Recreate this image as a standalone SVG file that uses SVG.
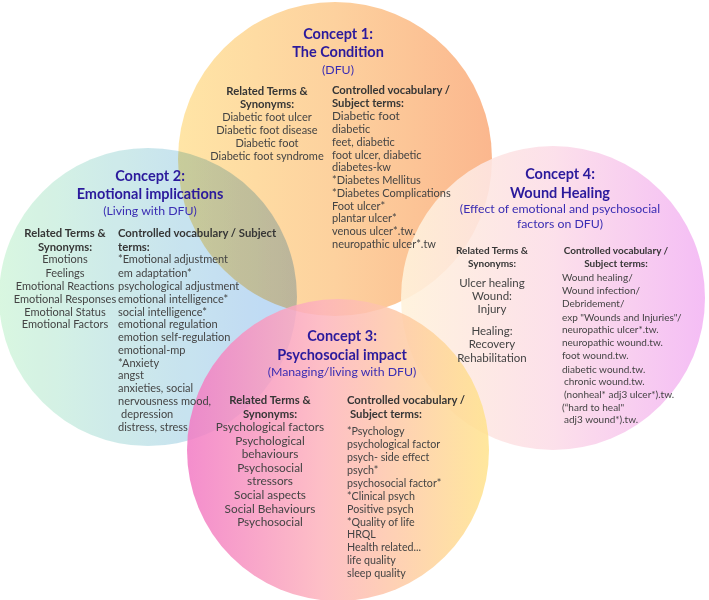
<svg xmlns="http://www.w3.org/2000/svg" width="709" height="600" viewBox="0 0 709 600">
<defs>
<linearGradient id="g1" x1="0" y1="0" x2="1" y2="0">
<stop offset="0" stop-color="#FFE5A6"/><stop offset="0.5" stop-color="#FDD19E"/><stop offset="1" stop-color="#FBB78E"/>
</linearGradient>
<linearGradient id="g2" x1="0" y1="0" x2="1" y2="0">
<stop offset="0" stop-color="#D4F6DC"/><stop offset="0.5" stop-color="#C4E4EA"/><stop offset="1" stop-color="#B4D2F6"/>
</linearGradient>
<linearGradient id="g4" x1="0" y1="0" x2="1" y2="0">
<stop offset="0" stop-color="#FFF2DA"/><stop offset="0.5" stop-color="#FCDDE8"/><stop offset="1" stop-color="#F3B6F4"/>
</linearGradient>
<linearGradient id="g3" x1="0" y1="0" x2="1" y2="0">
<stop offset="0" stop-color="#F27AC4"/><stop offset="0.45" stop-color="#FDB4BC"/><stop offset="1" stop-color="#FFE38C"/>
</linearGradient>
<style>
text{font-family:Lato,"Liberation Sans",sans-serif;fill:#444444;font-size:11px}
.t{font-weight:bold;font-size:14.5px;fill:#2B1A9C;text-anchor:middle}
.s{font-size:12.3px;fill:#3A2DB3;text-anchor:middle}
.h{font-weight:bold;font-size:11.3px;fill:#363636}
.c{text-anchor:middle}
.w{font-size:10px}
.p{font-size:11.8px}
.q{font-size:10.7px}
.r{font-size:11.5px}
</style>
</defs>
<rect width="709" height="600" fill="#ffffff"/>
<g id="circles">
<circle id="c1" cx="335" cy="159" r="157" fill="url(#g1)"/>
<circle id="c2" cx="148" cy="297" r="149" fill="url(#g2)" opacity="0.88" style="mix-blend-mode:multiply"/>
<circle id="c4" cx="553" cy="298" r="152" fill="url(#g4)" opacity="0.9"/>
<circle id="c3" cx="338" cy="450" r="151" fill="url(#g3)" opacity="0.85"/>
</g>
<g id="connectors"></g>
<g id="concept1">
<text class="t" x="338" y="39">Concept 1:</text>
<text class="t" x="338" y="57">The Condition</text>
<text class="s" x="338" y="74">(DFU)</text>
<text class="h c" x="267" y="95">Related Terms &amp;</text>
<text class="h c" x="267" y="108">Synonyms:</text>
<text class="c" x="267" y="121">Diabetic foot ulcer</text>
<text class="c" x="267" y="134">Diabetic foot disease</text>
<text class="c" x="267" y="147">Diabetic foot</text>
<text class="c" x="267" y="160">Diabetic foot syndrome</text>
<text class="h" x="332" y="94">Controlled vocabulary /</text>
<text class="h" x="332" y="107">Subject terms:</text>
<text x="332" y="120" style="font-size:11.8px">Diabetic foot</text>
<text x="332" y="132.5">diabetic</text>
<text x="332" y="146">feet, diabetic</text>
<text x="332" y="158.5">foot ulcer, diabetic</text>
<text x="332" y="170.5">diabetes-kw</text>
<text x="332" y="184">*Diabetes Mellitus</text>
<text x="332" y="197">*Diabetes Complications</text>
<text x="332" y="210">Foot ulcer*</text>
<text x="332" y="222">plantar ulcer*</text>
<text x="332" y="235">venous ulcer*.tw.</text>
<text x="332" y="248">neuropathic ulcer*.tw</text>
</g>
<g id="concept2">
<text class="t" x="150" y="181">Concept 2:</text>
<text class="t" x="150" y="199">Emotional implications</text>
<text class="s" x="150" y="215">(Living with DFU)</text>
<text class="h c" x="65" y="237">Related Terms &amp;</text>
<text class="h c" x="65" y="251">Synonyms:</text>
<text class="c" x="65" y="263">Emotions</text>
<text class="c" x="65" y="276.5">Feelings</text>
<text class="c" x="65" y="290">Emotional Reactions</text>
<text class="c" x="65" y="302.5">Emotional Responses</text>
<text class="c" x="65" y="315.5">Emotional Status</text>
<text class="c" x="65" y="328">Emotional Factors</text>
<text class="h" x="118" y="237">Controlled vocabulary / Subject</text>
<text class="h" x="118" y="251">terms:</text>
<text x="118" y="263">*Emotional adjustment</text>
<text x="118" y="276.5">em adaptation*</text>
<text x="118" y="290">psychological adjustment</text>
<text x="118" y="302.5">emotional intelligence*</text>
<text x="118" y="315.5">social intelligence*</text>
<text x="118" y="328">emotional regulation</text>
<text x="118" y="341">emotion self-regulation</text>
<text x="118" y="353.5">emotional-mp</text>
<text x="118" y="366.5">*Anxiety</text>
<text x="118" y="379">angst</text>
<text x="118" y="392">anxieties, social</text>
<text x="118" y="404.5">nervousness mood,</text>
<text x="121" y="417.5">depression</text>
<text x="118" y="430.5">distress, stress</text>
</g>
<g id="concept4">
<text class="t" x="560" y="179">Concept 4:</text>
<text class="t" x="560" y="198">Wound Healing</text>
<text class="s" x="560" y="213">(Effect of emotional and psychosocial</text>
<text class="s" x="560" y="227.5">factors on DFU)</text>
<text class="h c w" x="492" y="254">Related Terms &amp;</text>
<text class="h c w" x="492" y="267">Synonyms:</text>
<text class="c r" x="492" y="287">Ulcer healing</text>
<text class="c r" x="492" y="300">Wound:</text>
<text class="c r" x="492" y="313">Injury</text>
<text class="c r" x="492" y="335">Healing:</text>
<text class="c r" x="492" y="348">Recovery</text>
<text class="c r" x="492" y="362">Rehabilitation</text>
<text class="h c w" x="616" y="254">Controlled vocabulary /</text>
<text class="h c w" x="616" y="267">Subject terms:</text>
<text class="w" x="562" y="280.5">Wound healing/</text>
<text class="w" x="562" y="294">Wound infection/</text>
<text class="w" x="562" y="307">Debridement/</text>
<text class="w" x="562" y="321">exp "Wounds and Injuries"/</text>
<text class="w" x="562" y="333">neuropathic ulcer*.tw.</text>
<text class="w" x="562" y="346">neuropathic wound.tw.</text>
<text class="w" x="562" y="359">foot wound.tw.</text>
<text class="w" x="562" y="373">diabetic wound.tw.</text>
<text class="w" x="564" y="385">chronic wound.tw.</text>
<text class="w" x="564" y="398">(nonheal* adj3 ulcer*).tw.</text>
<text class="w" x="562" y="411">(“hard to heal"</text>
<text class="w" x="564" y="423">adj3 wound*).tw.</text>
</g>
<g id="concept3">
<text class="t" x="342" y="341">Concept 3:</text>
<text class="t" x="342" y="360">Psychosocial impact</text>
<text class="s" x="342" y="375.5">(Managing/living with DFU)</text>
<text class="h c" x="270" y="404">Related Terms &amp;</text>
<text class="h c" x="270" y="417.5">Synonyms:</text>
<text class="c p" x="270" y="431">Psychological factors</text>
<text class="c p" x="270" y="444.6">Psychological</text>
<text class="c p" x="270" y="458.2">behaviours</text>
<text class="c p" x="270" y="471.8">Psychosocial</text>
<text class="c p" x="270" y="485.4">stressors</text>
<text class="c p" x="270" y="499">Social aspects</text>
<text class="c p" x="270" y="512.6">Social Behaviours</text>
<text class="c p" x="270" y="526.2">Psychosocial</text>
<text class="h" x="347" y="404">Controlled vocabulary /</text>
<text class="h" x="350" y="417.5">Subject terms:</text>
<text class="q" x="347" y="435">*Psychology</text>
<text class="q" x="347" y="448">psychological factor</text>
<text class="q" x="347" y="461">psych- side effect</text>
<text class="q" x="347" y="474">psych*</text>
<text class="q" x="347" y="487">psychosocial factor*</text>
<text class="q" x="347" y="499.5">*Clinical psych</text>
<text class="q" x="347" y="512.5">Positive psych</text>
<text class="q" x="347" y="525.5">*Quality of life</text>
<text class="q" x="347" y="538">HRQL</text>
<text class="q" x="347" y="551">Health related...</text>
<text class="q" x="347" y="563.5">life quality</text>
<text class="q" x="347" y="576.5">sleep quality</text>
</g>
</svg>
